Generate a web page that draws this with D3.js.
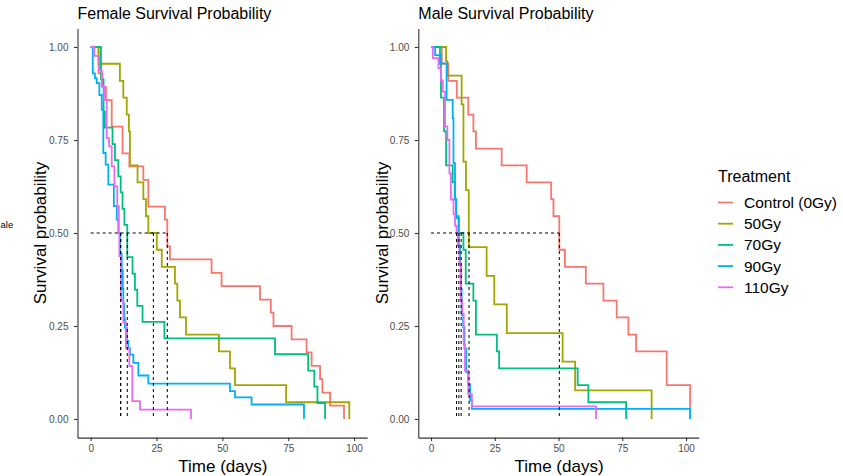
<!DOCTYPE html>
<html>
<head>
<meta charset="utf-8">
<script src="https://cdn.jsdelivr.net/npm/d3@7"></script>
<style>
  html, body { margin: 0; padding: 0; background: #fff; }
  svg { display: block; font-family: "Liberation Sans", Arial, sans-serif; }
</style>
</head>
<body>
<svg id="chart" width="843" height="476"></svg>
<script>
// ---------- data ----------
const groups = ["Control (0Gy)", "50Gy", "70Gy", "90Gy", "110Gy"];
const groupColors = ["#F8766D", "#A3A500", "#00BF7D", "#00B0F6", "#E76BF3"];
const xTicks = [0, 25, 50, 75, 100];
const yTicks = [0, 0.25, 0.5, 0.75, 1];

// Female
const femaleControlTime = [0, 3.0, 4.5, 5.8, 8.0, 12.1, 14.7, 20.0, 21.9, 28.2, 29.1, 30.1, 45.9, 49.7, 64.3, 68.4, 69.4, 76.3, 82.0, 83.9, 87.1, 88.0, 90.9, 96.2];
const femaleControlSurv = [1, 0.929, 0.893, 0.857, 0.786, 0.714, 0.679, 0.643, 0.571, 0.536, 0.464, 0.429, 0.393, 0.357, 0.321, 0.286, 0.25, 0.214, 0.179, 0.143, 0.107, 0.071, 0.036, 0];
const female50Time = [0, 3.0, 11.1, 12.4, 13.7, 14.5, 14.9, 17.8, 20.0, 21.0, 21.9, 25.1, 27.0, 32.0, 32.9, 33.9, 36.2, 48.7, 52.9, 54.8, 74.2, 98.2];
const female50Surv = [1, 0.955, 0.909, 0.864, 0.818, 0.773, 0.682, 0.636, 0.591, 0.545, 0.5, 0.455, 0.409, 0.364, 0.318, 0.273, 0.227, 0.182, 0.136, 0.091, 0.045, 0];
const female70Time = [0, 3.9, 4.9, 5.4, 8.3, 9.2, 10.5, 11.4, 12.1, 12.8, 13.9, 15.9, 16.8, 17.7, 19.7, 28.0, 70.0, 82.6, 84.9, 86.1, 89.0];
const female70Surv = [1, 0.913, 0.826, 0.783, 0.739, 0.696, 0.652, 0.609, 0.565, 0.522, 0.435, 0.391, 0.348, 0.304, 0.261, 0.217, 0.174, 0.130, 0.087, 0.043, 0];
const female90Time = [0, 0.8, 1.6, 2.3, 3.3, 4.2, 4.8, 5.7, 6.7, 8.8, 9.9, 10.5, 11.2, 11.8, 12.2, 12.4, 12.8, 13.0, 13.7, 14.3, 14.9, 16.2, 18.1, 21.9, 52.9, 54.8, 61.1, 81.0];
const female90Surv = [1, 0.929, 0.916, 0.903, 0.871, 0.831, 0.715, 0.684, 0.630, 0.572, 0.536, 0.5, 0.443, 0.40, 0.35, 0.31, 0.27, 0.245, 0.21, 0.19, 0.173, 0.151, 0.117, 0.095, 0.075, 0.058, 0.039, 0];
const female110Time = [0, 1.4, 3.2, 4.2, 5.1, 6.1, 7.0, 8.0, 9.0, 10.1, 10.7, 10.9, 11.5, 12.4, 13.4, 14.7, 15.8, 18.7, 38.1];
const female110Surv = [1, 0.976, 0.938, 0.894, 0.858, 0.755, 0.733, 0.679, 0.625, 0.572, 0.5, 0.438, 0.32, 0.259, 0.19, 0.142, 0.048, 0.025, 0];
const femaleMedians = [29.1, 23.8, 13.9, 11.4, 11.4];

// Male
const maleControlTime = [0, 4.2, 6.8, 10.1, 14.6, 16.6, 17.6, 27.7, 37.5, 47.1, 48.0, 50.3, 52.5, 60.7, 67.6, 72.8, 77.4, 80.4, 92.4, 101.6];
const maleControlSurv = [1, 0.955, 0.909, 0.864, 0.818, 0.773, 0.727, 0.682, 0.636, 0.591, 0.545, 0.455, 0.409, 0.364, 0.318, 0.273, 0.227, 0.182, 0.091, 0];
const male50Time = [0, 5.9, 6.4, 12.0, 12.7, 13.7, 14.8, 21.8, 24.8, 29.7, 51.6, 56.5, 86.5];
const male50Surv = [1, 0.962, 0.923, 0.846, 0.692, 0.615, 0.462, 0.385, 0.308, 0.231, 0.154, 0.077, 0];
const male70Time = [0, 3.5, 3.9, 5.1, 5.9, 8.5, 9.3, 9.9, 10.8, 12.7, 13.6, 16.6, 17.6, 25.8, 26.7, 57.5, 61.7, 76.5];
const male70Surv = [1, 0.955, 0.864, 0.773, 0.682, 0.636, 0.591, 0.545, 0.5, 0.455, 0.364, 0.318, 0.227, 0.182, 0.136, 0.091, 0.045, 0];
const male90Time = [0, 1.6, 3.9, 6.1, 8.5, 8.8, 9.4, 9.8, 10.9, 11.4, 11.7, 12.0, 12.6, 13.1, 13.8, 14.6, 15.3, 16.0, 101.6];
const male90Surv = [1, 0.978, 0.956, 0.858, 0.809, 0.688, 0.59, 0.54, 0.467, 0.417, 0.35, 0.28, 0.247, 0.19, 0.126, 0.094, 0.049, 0.027, 0];
const male110Time = [0, 0.7, 2.9, 3.9, 4.6, 5.5, 6.4, 7.2, 7.8, 8.8, 9.4, 10.0, 10.5, 11.1, 11.6, 12.2, 12.8, 13.3, 14.6, 16.0, 64.7];
const male110Surv = [1, 0.97, 0.943, 0.91, 0.88, 0.786, 0.75, 0.66, 0.59, 0.55, 0.52, 0.5, 0.467, 0.42, 0.32, 0.283, 0.2, 0.13, 0.067, 0.034, 0];
const maleMedians = [50.3, 14.9, 11.8, 10.9, 10.0];

// ---------- build ----------
const zip = (t, s) => t.map((v, i) => [v, s[i]]);
const panels = [
  {
    title: "Female Survival Probability",
    xRange: [77.5, 367.2],
    series: [zip(femaleControlTime, femaleControlSurv), zip(female50Time, female50Surv), zip(female70Time, female70Surv), zip(female90Time, female90Surv), zip(female110Time, female110Surv)],
    medians: femaleMedians,
    yTitleX: 40
  },
  {
    title: "Male Survival Probability",
    xRange: [418.3, 698.8],
    series: [zip(maleControlTime, maleControlSurv), zip(male50Time, male50Surv), zip(male70Time, male70Surv), zip(male90Time, male90Surv), zip(male110Time, male110Surv)],
    medians: maleMedians,
    yTitleX: 382
  }
];

const svg = d3.select("#chart");
const yRange = [437.6, 28.4];

// clipped remnant of a neighbouring label, as in the reference
svg.append("text")
  .attr("x", 0.5).attr("y", 227.5)
  .attr("font-size", 9.5).attr("fill", "#000")
  .text("ale");

panels.forEach(p => {
  const x = d3.scaleLinear().domain([-5, 105]).range(p.xRange);
  const y = d3.scaleLinear().domain([-0.05, 1.05]).range(yRange);
  const g = svg.append("g");

  // curves
  const line = d3.line().x(d => x(d[0])).y(d => y(d[1])).curve(d3.curveStepAfter);
  p.series.forEach((s, i) => {
    g.append("path").attr("d", line(s))
      .attr("fill", "none").attr("stroke", groupColors[i])
      .attr("stroke-width", 1.8).attr("stroke-linejoin", "miter");
  });

  // median lines
  const maxMed = d3.max(p.medians);
  g.append("line")
    .attr("x1", x(0)).attr("x2", x(maxMed))
    .attr("y1", y(0.5)).attr("y2", y(0.5))
    .attr("stroke", "#000").attr("stroke-width", 1).attr("stroke-dasharray", "3,3");
  p.medians.forEach(m => {
    g.append("line")
      .attr("x1", x(m)).attr("x2", x(m))
      .attr("y1", y(0.5)).attr("y2", y(0))
      .attr("stroke", "#000").attr("stroke-width", 1).attr("stroke-dasharray", "3,3");
  });

  // axes
  const xAxis = d3.axisBottom(x).tickValues(xTicks).tickSize(3.5).tickSizeOuter(0).tickPadding(4).tickFormat(d3.format("d"));
  const yAxis = d3.axisLeft(y).tickValues(yTicks).tickSize(3.5).tickSizeOuter(0).tickPadding(5.5).tickFormat(d3.format(".2f"));
  const gx = g.append("g").attr("transform", `translate(0,${yRange[0]})`).call(xAxis);
  const gy = g.append("g").attr("transform", `translate(${p.xRange[0]},0)`).call(yAxis);
  [gx, gy].forEach(a => {
    a.select(".domain").attr("stroke", "#333").attr("stroke-width", 1.1);
    a.selectAll(".tick line").attr("stroke", "#333").attr("stroke-width", 1.1);
    a.selectAll(".tick text").attr("fill", "#4D4D4D").attr("font-size", 10)
      .attr("font-family", "Liberation Sans, Arial, sans-serif");
  });

  // titles
  g.append("text").attr("x", p.xRange[0]).attr("y", 19)
    .attr("font-size", 16).attr("fill", "#000").text(p.title);
  g.append("text")
    .attr("x", (x(0) + x(100)) / 2 + 0.5).attr("y", 472)
    .attr("text-anchor", "middle").attr("font-size", 17).attr("fill", "#000")
    .text("Time (days)");
  g.append("text")
    .attr("transform", `translate(${p.yTitleX + 6},${y(0.5)}) rotate(-90)`)
    .attr("text-anchor", "middle").attr("font-size", 17).attr("fill", "#000")
    .text("Survival probability");
});

// legend
const leg = svg.append("g");
leg.append("text").attr("x", 718).attr("y", 182.3)
  .attr("font-size", 16).attr("fill", "#000").text("Treatment");
groups.forEach((name, i) => {
  const cy = 202.5 + i * 21.2;
  leg.append("line").attr("x1", 718).attr("x2", 733).attr("y1", cy).attr("y2", cy)
    .attr("stroke", groupColors[i]).attr("stroke-width", 1.8);
  leg.append("text").attr("x", 744).attr("y", cy + 5.5)
    .attr("font-size", 15.5).attr("fill", "#000").text(name);
});
</script>
</body>
</html>
